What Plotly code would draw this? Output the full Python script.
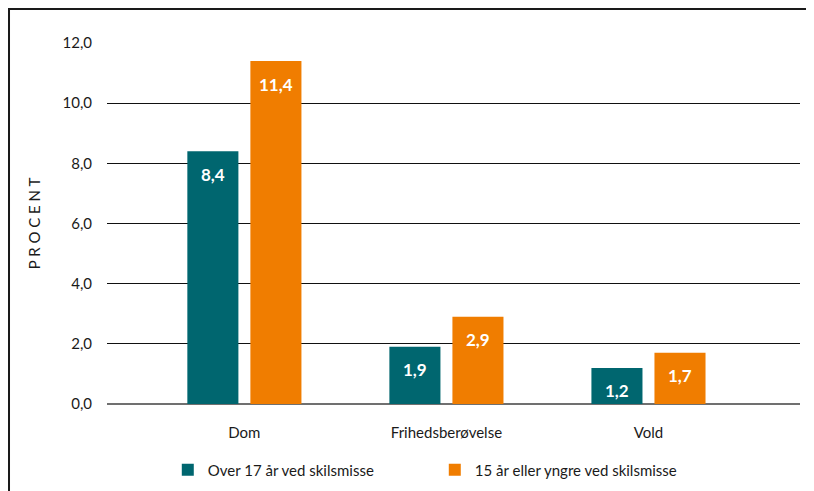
import plotly.graph_objects as go

categories = ["Dom", "Frihedsberøvelse", "Vold"]
over17 = [8.4, 1.9, 1.2]
under15 = [11.4, 2.9, 1.7]
series_names = ["Over 17 år ved skilsmisse", "15 år eller yngre ved skilsmisse"]
y_ticks = [0, 2, 4, 6, 8, 10, 12]

TEAL = "#00666f"
ORANGE = "#f07d00"
FONT = "Lato"

fig = go.Figure()
for name, vals, col in [(series_names[0], over17, TEAL), (series_names[1], under15, ORANGE)]:
    fig.add_trace(go.Bar(
        x=categories, y=vals, name=name,
        marker=dict(color=col, line=dict(width=0)),
    ))

# value labels, white, just below the top of each bar
for k, (vals, off) in enumerate([(over17, -0.157), (under15, 0.157)]):
    for i, v in enumerate(vals):
        fig.add_annotation(
            x=i + off, y=v, text="<b>" + f"{v:.1f}".replace(".", ",") + "</b>",
            showarrow=False, yshift=-23, yanchor="middle",
            font=dict(family=FONT, size=17, color="white"),
        )

# frame (top and left edges)
fig.add_shape(
    type="path", xref="paper", yref="paper",
    path="M -0.1414,-0.3 L -0.1414,1.094 L 1.05,1.094",
    line=dict(color="#1a1a1a", width=2),
)

fig.update_layout(
    width=800, height=483,
    margin=dict(l=99, r=8, t=35, b=87, autoexpand=False),
    paper_bgcolor="white", plot_bgcolor="white",
    separators=",.",
    barmode="group", bargap=0.376, bargroupgap=0.19,
    font=dict(family=FONT, size=15, color="#1a1a1a"),
    showlegend=True,
    legend=dict(
        orientation="h", x=0.473, y=-0.183, xanchor="center", yanchor="middle",
        font=dict(family=FONT, size=15, color="#1a1a1a"),
        entrywidth=222, entrywidthmode="pixels",
    ),
    xaxis=dict(
        range=[-0.68, 2.75], showgrid=False, showline=False, automargin=False,
        ticks="", ticklabelstandoff=18,
        tickfont=dict(family=FONT, size=15),
    ),
    yaxis=dict(
        range=[0, 12], tickvals=y_ticks, tickformat=".1f", automargin=False,
        showgrid=True, gridcolor="#111111", gridwidth=1,
        zeroline=True, zerolinecolor="#707070", zerolinewidth=2,
        showline=False, ticks="", ticklabelstandoff=14,
        tickfont=dict(family=FONT, size=15),
        title=dict(text="P R O C E N T", standoff=18, font=dict(family=FONT, size=15)),
    ),
)

fig.write_html("out.html")
